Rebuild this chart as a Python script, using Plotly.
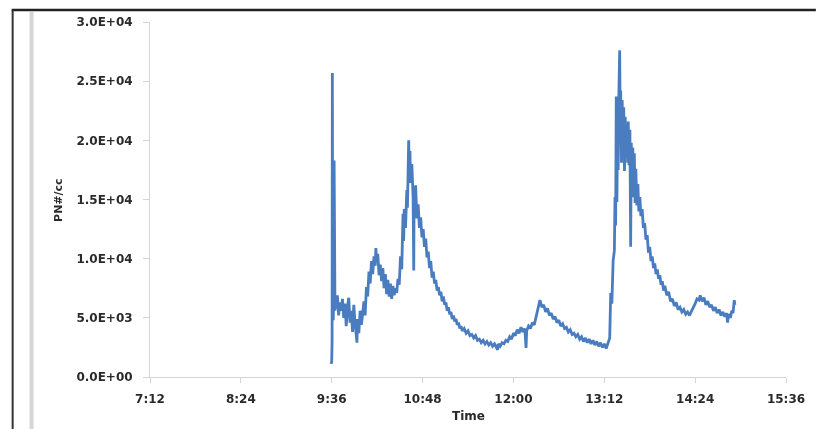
import plotly.graph_objects as go

# Particle number concentration over the day (time in minutes after midnight)
minutes = [
    575.5, 576.0, 576.3, 576.5, 576.8, 577.2, 577.6, 577.9, 578.2, 578.6, 579.0,
    579.5, 580.5, 581.5, 582.5, 583.5, 584.5, 585.5, 586.5, 587.5, 588.5, 589.5,
    590.5, 591.5, 592.5, 593.5, 594.5, 595.5, 596.0, 596.5, 597.5, 598.5, 599.5, 600.5,
    601.5, 602.5, 603.5, 604.5, 605.5, 606.5, 607.5, 608.5, 609.5, 610.5, 611.0, 611.5,
    612.5, 613.5,
    614.5, 615.5, 616.5, 617.5, 618.5, 619.5, 620.5, 621.5, 622.5, 623.5, 624.5, 625.5,
    626.5, 627.5, 628.5, 629.5,
    630.5, 631.5, 632.5, 633.0, 633.5, 634.5, 635.5, 636.0, 636.5, 637.0, 637.5, 638.0,
    638.5, 639.5, 640.5, 641.0, 641.3, 641.5, 642.5, 643.5, 644.5,
    645.5, 646.5, 647.5, 648.5, 649.5, 650.5, 651.5, 652.5, 653.5, 654.5, 655.5, 656.5,
    657.5, 658.5, 659.5, 660.5, 661.5, 662.5, 663.5, 664.5, 665.5, 666.5, 667.5, 668.5,
    669.5, 670.5, 671.5, 672.5, 673.5, 674.5, 675.5, 676.5, 677.5, 678.5, 679.5,
    681.0, 682.5, 684.0, 685.5, 687.0, 688.5, 690.0, 691.5, 693.0, 694.5, 696.0, 697.5,
    699.0, 700.5, 702.0, 703.5, 705.0, 706.5, 707.5, 708.0, 709.5, 711.0, 712.5, 714.0,
    715.5, 717.0, 718.5, 720.0, 721.5, 723.0, 724.5, 726.0, 727.5, 729.0, 730.0, 730.5,
    732.0, 733.5, 735.0, 736.5, 738.0, 739.5, 741.0, 742.5,
    744.0, 745.5, 747.0, 748.5, 750.0, 751.5, 753.0, 754.5, 756.0, 757.5, 759.0, 760.5,
    762.0, 763.5, 765.0, 766.5, 768.0, 769.5, 771.0, 772.5, 774.0, 775.5, 777.0, 778.5,
    780.0, 781.5, 783.0, 784.5, 786.0, 787.5, 789.0, 790.5, 792.0, 793.5, 795.0, 796.3,
    797.1, 798.0, 799.0, 800.0, 800.5, 801.0, 801.5, 802.0, 802.5, 803.0, 803.5, 804.2,
    804.6, 805.0, 805.6, 806.2, 806.8, 807.4, 808.0, 808.6, 809.2, 809.8, 810.5, 811.0,
    811.6, 812.3, 812.9, 813.4, 814.0, 814.6, 815.2, 815.8, 816.4, 817.0, 817.8, 818.6,
    819.4, 820.2, 821.0, 822.0, 823.0, 824.0, 825.0, 826.0, 827.0, 828.0, 829.0, 830.0,
    831.0, 832.0, 833.0, 834.0, 835.0, 836.0, 837.0, 838.0, 839.0, 840.0, 841.5, 843.0,
    844.5, 846.0, 847.5, 849.0, 850.5, 852.0, 853.5, 855.0, 856.5, 858.0, 859.5, 861.0,
    862.5, 864.0, 865.5, 867.0, 868.0, 869.5, 871.0, 872.5, 874.0, 875.5, 877.0, 878.5,
    880.0, 881.5, 883.0, 884.5, 886.0, 887.5, 889.0, 889.7, 890.5, 892.0, 893.0, 894.0,
    895.0, 895.5,
]

pn_per_cc = [
    1100, 1300, 3000, 25700, 6000, 4800, 7000, 18300, 7200, 5600, 6400,
    5800, 6900, 5200, 6300, 5600, 6600, 5000, 6200, 4300, 5900, 6700,
    4600, 5600, 3800, 6100, 4500, 3100, 2900, 4900, 3700, 5600, 4400, 5300,
    6400, 5200, 7600, 6800, 8900, 7900, 9800, 8700, 10200, 9400, 10900, 9900,
    10400, 8600,
    9500, 8100, 9200, 7500, 8700, 7000, 8200, 6800, 7900, 6600, 7700, 6900,
    7500, 7100, 8300, 7800,
    10200, 9100, 13800, 11500, 14200, 12600, 15800, 14300, 17600, 20000, 16900, 19100,
    16400, 18000, 15200, 9000, 15600, 13900, 16200, 13400, 14600,
    12600, 13500, 11800, 12500, 11000, 11700, 10100, 10600, 9200, 9800, 8400, 8900,
    7900, 8200, 7300, 7600, 6900, 7200, 6400, 6800, 6100, 6300, 5600, 5900,
    5300, 5500, 4900, 5200, 4700, 4900, 4400, 4600, 4100, 4300, 3900,
    4100, 3700, 3900, 3500, 3600, 3300, 3500, 3100, 3200, 2900, 3100, 2800,
    3000, 2700, 2900, 2600, 2800, 2500, 2300, 2800, 2600, 2900, 2800, 3100,
    3000, 3400, 3200, 3700, 3500, 4000, 3700, 4200, 3800, 4100, 2450, 3900,
    4300, 4100, 4600, 4400, 5100, 5800, 6500, 5900,
    6100, 5500, 5800, 5200, 5400, 4900, 5100, 4600, 4800, 4300, 4500, 4100,
    4200, 3800, 4000, 3600, 3700, 3400, 3600, 3200, 3400, 3000, 3300, 2900,
    3200, 2800, 3100, 2700, 3000, 2600, 2900, 2500, 2800, 2400, 2800, 3300,
    7100, 6200, 9800, 10700, 15200, 12800, 23700, 14800, 21000, 17500, 23500, 27600,
    21500, 24200, 18100, 23400, 19800, 22800, 17400, 22000, 18900, 21300, 18100, 21600,
    17900, 20900, 11000, 19800, 16500, 19400, 15200, 18900, 14700, 17600, 14500, 16300,
    14000, 15200, 13600, 14200, 12600, 13000, 11600, 12000, 10500, 11000, 9800, 10200,
    9200, 9600, 8700, 9100, 8300, 8600, 7800, 8100, 7300, 7700, 6900, 7200,
    6400, 6600, 6000, 6300, 5700, 5900, 5500, 5700, 5300, 5500, 5200, 5500,
    5800, 6200, 6600, 6500, 6900, 6400, 6700, 6100, 6400, 5900, 6100, 5600,
    5900, 5400, 5700, 5200, 5500, 5100, 5400, 4600, 5300, 5000, 5600, 5400,
    6500, 6100,
]

# Axis ticks: every 72 minutes from 7:12 to 15:36
x_tick_minutes = [432, 504, 576, 648, 720, 792, 864, 936]
x_tick_labels = ["7:12", "8:24", "9:36", "10:48", "12:00", "13:12", "14:24", "15:36"]
y_tick_values = [0, 5000, 10000, 15000, 20000, 25000, 30000]
y_tick_labels = ["0.0E+00", "5.0E+03", "1.0E+04", "1.5E+04", "2.0E+04", "2.5E+04", "3.0E+04"]

W, H = 817, 429
L, R, T, B = 150, 28, 22, 52
pw, ph = W - L - R, H - T - B


def px(x):
    return (x - L) / pw


def py(y):
    return (H - B - y) / ph


tick_font = dict(family="DejaVu Sans", size=12, color="#2a2a2a", weight="bold")
axis_grey = "#d4d4d4"

fig = go.Figure()
fig.add_trace(go.Scatter(
    x=minutes, y=pn_per_cc, mode="lines",
    line=dict(color="#4a7dbf", width=2.8),
    hoverinfo="skip", showlegend=False,
))

fig.update_layout(
    width=W, height=H,
    margin=dict(l=L, r=R, t=T, b=B),
    paper_bgcolor="white", plot_bgcolor="white",
    showlegend=False,
    xaxis=dict(
        range=[432, 936], tickmode="array",
        tickvals=x_tick_minutes, ticktext=x_tick_labels,
        showgrid=False, zeroline=False,
        showline=True, linecolor=axis_grey, linewidth=1,
        ticks="outside", ticklen=5, tickcolor=axis_grey,
        tickfont=tick_font, ticklabelstandoff=6,
    ),
    yaxis=dict(
        range=[0, 30000], tickmode="array",
        tickvals=y_tick_values, ticktext=y_tick_labels,
        showgrid=False, zeroline=False,
        showline=True, linecolor=axis_grey, linewidth=1,
        ticks="outside", ticklen=6, tickcolor=axis_grey,
        tickfont=tick_font, ticklabelstandoff=8,
    ),
    annotations=[
        dict(text="Time", xref="paper", yref="paper",
             x=0.5, y=py(416), xanchor="center", yanchor="middle",
             showarrow=False, font=dict(family="DejaVu Sans", size=12,
                                        color="#2a2a2a", weight="bold")),
        dict(text="PN#/cc", xref="paper", yref="paper",
             x=px(58), y=0.5, xanchor="center", yanchor="middle",
             textangle=-90, showarrow=False,
             font=dict(family="DejaVu Sans", size=11, color="#2a2a2a", weight="bold")),
    ],
    shapes=[
        # frame edges around the chart
        dict(type="line", xref="paper", yref="paper",
             x0=px(11), x1=px(W + 2), y0=py(10), y1=py(10),
             line=dict(color="#222222", width=2.5)),
        dict(type="line", xref="paper", yref="paper",
             x0=px(12), x1=px(12), y0=py(10), y1=py(H + 2),
             line=dict(color="#333333", width=2)),
        dict(type="line", xref="paper", yref="paper",
             x0=px(31), x1=px(31), y0=py(12), y1=py(H + 2),
             line=dict(color="#d6d6d6", width=4)),
    ],
)

fig.write_html(
    "out.html",
    post_script="document.querySelectorAll('.plot-container').forEach(function(e){e.style.filter='blur(0.7px)';});",
)
